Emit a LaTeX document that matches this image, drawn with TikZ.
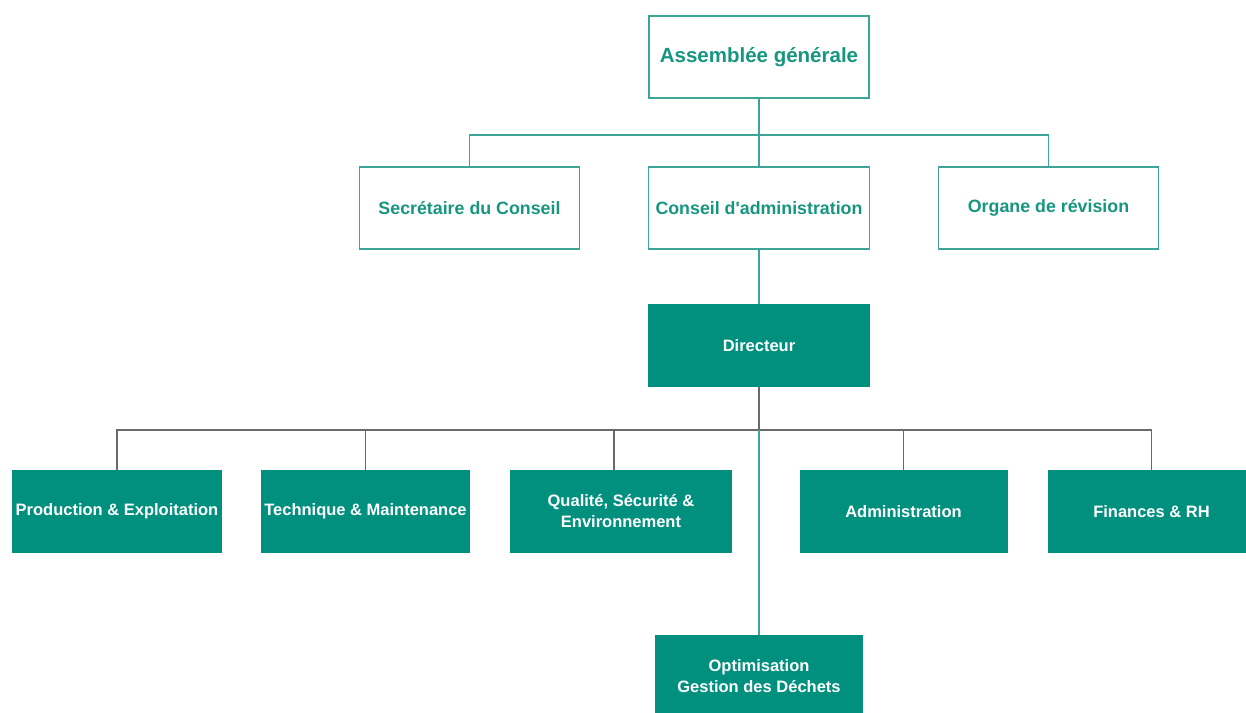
\documentclass[tikz,border=0pt]{standalone}
\usepackage{fontspec}
\setmainfont{Liberation Sans}
\usepackage{tikz}
\usetikzlibrary{positioning}
\definecolor{tealfill}{HTML}{01907E}
\definecolor{tealtext}{HTML}{17967F}
\definecolor{tealedge}{HTML}{3DA596}
\definecolor{greyedge}{HTML}{6A6A6A}

\begin{document}
\begin{tikzpicture}
\tikzstyle{board} = [rectangle, minimum width=7.75cm, minimum height=2.89cm, text centered, draw=tealedge, line width=1.4pt, fill=white, text=tealtext, font=\fontsize{17.8}{21}\selectfont\bfseries]
\tikzstyle{head} = [board, minimum width=7.73cm, font=\fontsize{20.5}{24}\selectfont\bfseries]
\tikzstyle{unit} = [rectangle, minimum width=7.31cm, minimum height=2.92cm, align=center, fill=tealfill, text=white, font=\fontsize{16.5}{21}\selectfont\bfseries]
\tikzstyle{wide} = [unit, minimum width=7.77cm]
\tikzstyle{tealline} = [draw=tealedge, line width=1.3pt]
\tikzstyle{greyline} = [draw=greyedge, line width=1.1pt]

\useasboundingbox (0,0) rectangle (43.792,-25.059);

%nodes
\node (asm) [head] at (26.676,-2.003) {Assemblée générale};
\node (cons) [board, below of=asm, yshift=-4.307cm] {Conseil d\textquotesingle administration};
\node (sec) [board, left of=cons, xshift=-9.175cm] {Secrétaire du Conseil};
\node (org) [board, right of=cons, xshift=9.175cm] {Organe de révision};
\node (dir) [wide, below of=cons, yshift=-3.833cm] {Directeur};
\node (qse) [wide, below of=dir, xshift=-4.85cm, yshift=-4.834cm] {Qualité, Sécurité \&\\Environnement};
\node (tech) [unit, left of=qse, xshift=-7.98cm] {Technique \& Maintenance};
\node (prod) [unit, left of=tech, xshift=-7.734cm] {Production \& Exploitation};
\node (adm) [unit, right of=qse, xshift=8.929cm] {Administration};
\node (fin) [unit, right of=adm, xshift=7.716cm] {Finances \& RH};
\node (opt) [unit, below of=dir, yshift=-10.633cm] {Optimisation\\Gestion des Déchets};
\coordinate [below of=asm, yshift=-1.741cm] (topbar);
\coordinate [below of=dir, yshift=-1.97cm] (bar);

%lines
\draw [tealline] (asm) -- (cons);
\draw [tealline] (sec.north) |- (topbar) -| (org.north);
\draw [tealline] (cons) -- (dir);
\draw [greyline] (dir) -- (bar);
\draw [greyline] (prod.north) |- (bar) -| (fin.north);
\draw [greyline] (tech.north) -- (tech.north |- bar);
\draw [greyline] ([xshift=-7pt]qse.north) -- ([xshift=-7pt]qse.north |- bar);
\draw [greyline] (adm.north) -- (adm.north |- bar);
\draw [tealline] (bar) -- (opt);
\end{tikzpicture}
\end{document}
